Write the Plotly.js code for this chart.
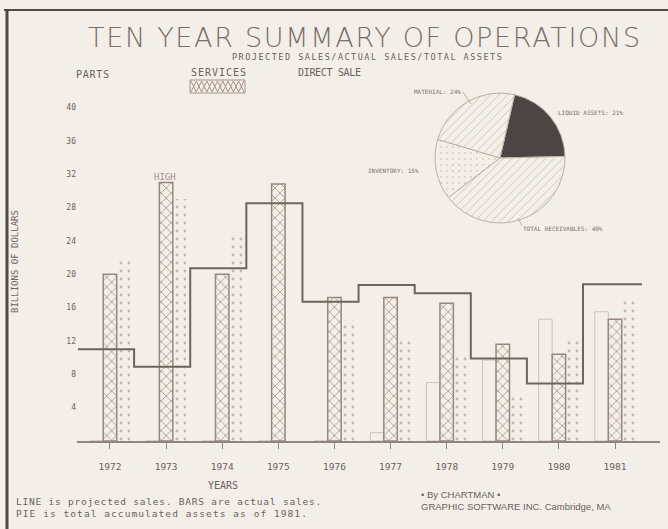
<!DOCTYPE html>
<html>
<head>
<meta charset="utf-8">
<script src="https://cdn.plot.ly/plotly-3.0.1.min.js"></script>
<style>
html,body{margin:0;padding:0;background:#f4eee8;}
#chart{width:668px;height:529px;}
</style>
</head>
<body>
<div id="chart"></div>
<script>
// ---- data ----
const years = [1972, 1973, 1974, 1975, 1976, 1977, 1978, 1979, 1980, 1981];
const yearLabels = ['1972','1973','1974','1975','1976','1977','1978','1979','1980','1981'];
const parts = [0, 0, 0, 0, 0, 1, 7, 9.7, 14.6, 15.5];
const services = [20, 31, 20, 30.8, 17.2, 17.2, 16.5, 11.6, 10.4, 14.6];
const directSale = [21.7, 29, 25, 0, 14.5, 12, 10.5, 5.3, 12.5, 17.2];
const projected = [11, 8.9, 20.7, 28.5, 16.7, 18.7, 17.7, 9.9, 6.9, 18.8];
const yTicks = [4, 8, 12, 16, 20, 24, 28, 32, 36, 40];
const yTickLabels = ['4', '8', '12', '16', '20', '24', '28', '32', '36', '40'];
const pieLabels = ['LIQUID ASSETS', 'TOTAL RECEIVABLES', 'INVENTORY', 'MATERIAL'];
const pieValues = [21, 40, 15, 24];

// ---- layout geometry ----
const W = 668, H = 529;
const M = {l: 77, r: 8, t: 85, b: 88};
const PW = W - M.l - M.r, PH = H - M.t - M.b;
const px = x => (x - M.l) / PW;
const py = y => (H - M.b - y) / PH;

const ink = '#6a615b';
const light = '#9a8e86';
const bg = '#f4eee8';
const mono = '"DejaVu Sans Mono", monospace';

// step line: each projected value spans its year
const stepOffset = 0.57;
const stepX = years.map(y => y - stepOffset).concat([years[years.length - 1] + 1 - stepOffset + 0.05]);
const stepY = projected.concat([projected[projected.length - 1]]);

const traces = [
  {
    type: 'bar', name: 'PARTS', x: years, y: parts,
    marker: {color: 'rgba(0,0,0,0)', line: {color: '#cdc2b9', width: 1}},
    hoverinfo: 'skip'
  },
  {
    type: 'bar', name: 'SERVICES', x: years, y: services,
    marker: {
      color: bg,
      line: {color: '#968880', width: 1.5},
      pattern: {shape: 'x', fgcolor: '#a5978e', bgcolor: bg, size: 7, solidity: 0.22}
    },
    hoverinfo: 'skip'
  },
  {
    type: 'bar', name: 'DIRECT SALE', x: years, y: directSale,
    marker: {
      color: 'rgba(0,0,0,0)',
      line: {color: 'rgba(0,0,0,0)', width: 0},
      pattern: {shape: '.', fgcolor: '#c3b7ad', bgcolor: 'rgba(0,0,0,0)', size: 8, solidity: 0.1}
    },
    hoverinfo: 'skip'
  },
  {
    type: 'scatter', mode: 'lines', x: stepX, y: stepY,
    line: {shape: 'hv', color: '#6e645e', width: 2},
    hoverinfo: 'skip', showlegend: false
  },
  {
    type: 'pie', labels: pieLabels, values: pieValues, sort: false,
    direction: 'clockwise', rotation: 13, textinfo: 'none', hoverinfo: 'skip',
    domain: {x: [px(435), px(565)], y: [py(223), py(93)]},
    marker: {
      colors: ['#4b4543', bg, bg, bg],
      line: {color: '#bcafa5', width: 1},
      pattern: {
        shape: ['', '/', '.', '/'],
        fgcolor: ['#4b4543', '#b5a89e', '#d8cec6', '#b5a89e'],
        bgcolor: ['#4b4543', bg, bg, bg],
        size: 6, solidity: 0.1
      }
    },
    showlegend: false
  }
];

const ann = (x, y, text, opts) => Object.assign({
  xref: 'paper', yref: 'paper', x: px(x), y: py(y), text: text, showarrow: false,
  xanchor: 'left', yanchor: 'middle', align: 'left', borderpad: 0,
  font: {family: mono, size: 10, color: ink}
}, opts || {});

// target widths (px) for texts that get letter-spacing adjustment, by annotation index
const spacingTargets = {};
const annotations = [];
function addAnn(a, target) {
  if (target) spacingTargets[annotations.length] = target;
  annotations.push(a);
}
addAnn(ann(87, 38, 'TEN YEAR SUMMARY OF OPERATIONS', {font: {family: '"DejaVu Sans", sans-serif', weight: 200, size: 27, color: '#786f69'}}), 552);
addAnn(ann(231, 57, 'PROJECTED SALES/ACTUAL SALES/TOTAL ASSETS', {font: {family: mono, size: 8.5, color: ink}}), 270);
addAnn(ann(75, 74, 'PARTS', {font: {family: mono, size: 10, color: ink}}), 33);
addAnn(ann(190, 73, 'SERVICES', {font: {family: mono, size: 10, color: ink}}), 55);
addAnn(ann(297, 73, 'DIRECT SALE', {font: {family: mono, size: 10, color: ink}}), 63);
addAnn(ann(165, 177, 'HIGH', {xanchor: 'center', align: 'center', font: {family: mono, size: 9, color: light}}));
addAnn(ann(15, 262, 'BILLIONS OF DOLLARS', {xanchor: 'center', align: 'center', textangle: -90, font: {family: mono, size: 9, color: ink}}));
addAnn(ann(223, 485, 'YEARS', {xanchor: 'center', align: 'center', font: {family: mono, size: 10, color: ink}}));
addAnn(ann(15, 501, 'LINE is projected sales. BARS are actual sales.', {font: {family: mono, size: 9.5, color: ink}}), 305);
addAnn(ann(15, 513, 'PIE is total accumulated assets as of 1981.', {font: {family: mono, size: 9.5, color: ink}}), 291);
addAnn(ann(420, 494, '\u2022 By CHARTMAN \u2022', {font: {family: '"Liberation Sans Narrow", sans-serif', size: 9.5, color: ink}}));
addAnn(ann(420, 506, 'GRAPHIC SOFTWARE INC. Cambridge, MA', {font: {family: '"Liberation Sans Narrow", sans-serif', size: 9.5, color: ink}}));
// pie labels
addAnn(ann(462, 91, pieLabels[3] + ': ' + pieValues[3] + '%', {xanchor: 'right', align: 'right', font: {family: mono, size: 6, color: '#7a706a'}}));
addAnn(ann(557, 113, pieLabels[0] + ': ' + pieValues[0] + '%', {font: {family: mono, size: 6, color: '#7a706a'}}));
addAnn(ann(420, 170, pieLabels[2] + ': ' + pieValues[2] + '%', {xanchor: 'right', align: 'right', font: {family: mono, size: 6, color: '#7a706a'}}));
addAnn(ann(522, 228, pieLabels[1] + ': ' + pieValues[1] + '%', {font: {family: mono, size: 6, color: '#7a706a'}}));

// legend swatch (braided) for SERVICES
function zigzag(x0, x1, yTop, yBot, n) {
  let d = '';
  const step = (x1 - x0) / n;
  for (let i = 0; i <= n; i++) {
    const xx = x0 + i * step;
    const yy = (i % 2 === 0) ? yTop : yBot;
    d += (i === 0 ? 'M' : 'L') + px(xx) + ',' + py(yy);
  }
  return d;
}
const shapes = [
  {type: 'path', xref: 'paper', yref: 'paper', path: zigzag(191, 244, 81, 92, 10), line: {color: '#a3958c', width: 1}},
  {type: 'path', xref: 'paper', yref: 'paper', path: zigzag(191, 244, 92, 81, 10), line: {color: '#a3958c', width: 1}},
  {type: 'rect', xref: 'paper', yref: 'paper', x0: px(190), x1: px(245), y0: py(93), y1: py(80), line: {color: '#a3958c', width: 1}},
  // pie leader lines
  {type: 'line', xref: 'paper', yref: 'paper', x0: px(463), y0: py(92), x1: px(471), y1: py(104), line: {color: '#bcafa5', width: 1}},
  {type: 'line', xref: 'paper', yref: 'paper', x0: px(518), y0: py(218), x1: px(522), y1: py(226), line: {color: '#bcafa5', width: 1}},
  // page frame
  {type: 'line', xref: 'paper', yref: 'paper', x0: px(4), y0: py(10), x1: px(668), y1: py(10), line: {color: '#4f4844', width: 2}},
  {type: 'line', xref: 'paper', yref: 'paper', x0: px(7), y0: py(9), x1: px(7), y1: py(529), line: {color: '#4f4844', width: 3}}
];

const layout = {
  width: W, height: H,
  margin: M,
  paper_bgcolor: bg, plot_bgcolor: bg,
  showlegend: false,
  barmode: 'group', bargap: 0.28, bargroupgap: 0,
  font: {family: mono, color: ink},
  xaxis: {
    range: [1971.412, 1981.802],
    tickmode: 'array', tickvals: years, ticktext: yearLabels,
    ticks: 'outside', ticklen: 6, tickcolor: '#8e857e', tickwidth: 1,
    showline: true, linecolor: '#8e857e', linewidth: 1.5,
    showgrid: false, zeroline: false,
    ticklabelstandoff: 10,
    tickfont: {family: mono, size: 9.5, color: ink}
  },
  yaxis: {
    domain: [0, (H - M.b - 99) / PH],
    range: [0, 41],
    tickmode: 'array', tickvals: yTicks, ticktext: yTickLabels, ticksuffix: '-',
    ticks: '', showline: false, showgrid: false, zeroline: false,
    tickfont: {family: mono, size: 8, color: ink}
  },
  annotations: annotations,
  shapes: shapes
};

Plotly.newPlot('chart', traces, layout, {displayModeBar: false, staticPlot: true}).then(function () {
  Object.keys(spacingTargets).forEach(function (idx) {
    const g = document.querySelector('g.annotation[data-index="' + idx + '"]');
    if (!g) return;
    const t = g.querySelector('text.annotation-text');
    if (!t) return;
    const natural = t.getComputedTextLength();
    const n = t.textContent.length;
    if (n < 2) return;
    const sp = (spacingTargets[idx] - natural) / (n - 1);
    t.style.letterSpacing = sp.toFixed(2) + 'px';
  });
});
</script>
</body>
</html>
